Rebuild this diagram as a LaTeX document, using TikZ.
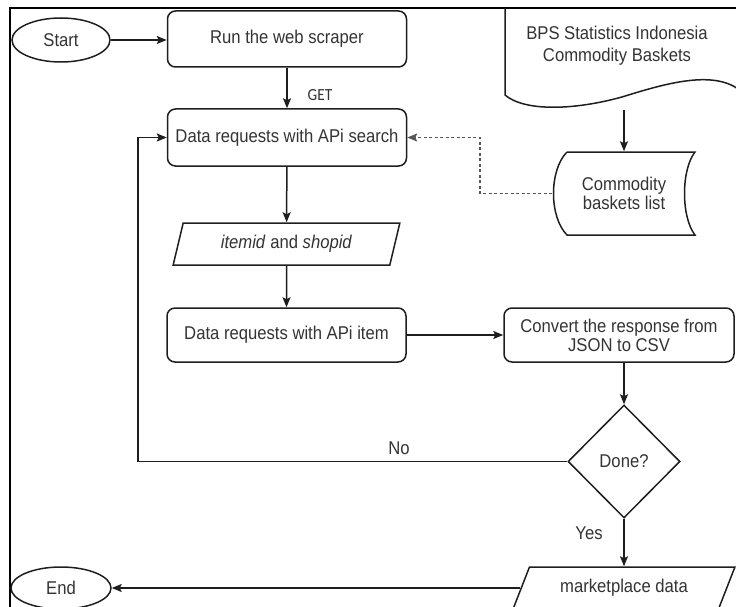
\documentclass[tikz,border=0pt]{standalone}
\usepackage{fontspec}
\setmainfont{Liberation Sans}[FakeStretch=0.9]
\newfontfamily\getfont{Carlito}[FakeStretch=0.9]
\usetikzlibrary{arrows.meta,shapes.geometric}
\definecolor{txt}{HTML}{333333}
\definecolor{ln}{HTML}{1E1E1E}
\begin{document}
\begin{tikzpicture}[x=1pt,y=-1pt,
  line width=1.5pt,
  every node/.style={text=txt, font=\fontsize{18.5}{21}\selectfont, inner sep=0pt},
  proc/.style={draw=ln, rounded corners=8pt, minimum width=239pt, minimum height=56pt, align=center},
  term/.style={draw=ln, ellipse, minimum width=98pt, minimum height=44pt},
  io/.style={draw=ln, trapezium, trapezium stretches=true, minimum height=42pt},
  flow/.style={draw=ln, -{Stealth[length=10pt,width=8pt,inset=2pt]}},
  dotflow/.style={flow, draw=ln!75, line width=1.8pt, dash pattern=on 3pt off 2.5pt},
  lbl/.style={text=txt}]
\useasboundingbox (0,0) rectangle (736,607);
% frame
\draw[line width=2pt, draw=black] (10,612) -- (10,8) -- (742,8);
% nodes
\node[term] (start) at (61,40) {Start};
\node[proc] (run) at (287,39) {Run the web scraper};
\node[proc, minimum height=57pt] (search) at (287,137.5) {Data requests with APi search};
\node[io, minimum width=227pt, trapezium left angle=69.7, trapezium right angle=110.3] (ids) at (286.5,244) {\textit{itemid} and \textit{shopid}};
\node[proc, minimum height=54pt] (item) at (286.5,335) {Data requests with APi item};
\node[proc, minimum width=230pt, minimum height=54pt, font=\fontsize{18.5}{19}\selectfont] (convert) at (619,335) {Convert the response from\\JSON to CSV};
\node[draw=ln, diamond, minimum width=112pt, minimum height=113pt] (done) at (624,461.5) {Done?};
\node[io, minimum width=222pt, trapezium left angle=57.3, trapezium right angle=122.7] (market) at (624,588) {marketplace data};
\node[term, minimum width=100pt, minimum height=42pt] (end) at (61,588) {End};
% document shape
\draw[ln] (505,8) -- (505,95) .. controls (525,112) and (575,110) .. (622,97)
  .. controls (670,82) and (720,68) .. (745,95);
\node[align=center, font=\fontsize{18.5}{22}\selectfont] (bps) at (617,46) {BPS Statistics Indonesia\\Commodity Baskets};
\coordinate (bpsb) at (624,110);
% stored data shape
\draw[ln] (567,152) -- (695,152) .. controls (681,170) and (681,217) .. (695,235)
  -- (567,235) .. controls (549,217) and (549,170) .. (567,152);
\node[minimum width=142pt, minimum height=83pt, align=center, font=\fontsize{18.5}{19}\selectfont] (comm) at (624,193.5) {Commodity\\baskets list};
% turning points
\coordinate (noturn) at (138,461.5);
\coordinate (dashturn) at (480,137.5);
% connectors
\draw[flow] (start.east) -- (start.east -| run.west);
\draw[flow] (run) -- (search);
\draw[flow] (search) -- (ids);
\draw[flow] (ids) -- (item);
\draw[flow] (item) -- (convert);
\draw[flow] (convert.south -| done.north) -- (done.north);
\draw[flow] (done.south) -- (done.south |- market.north);
\draw[flow] (market.left side) -- (end.east);
\draw[flow] (done.west) -- (noturn) |- (search.west);
\draw[dotflow] (comm.west) -| (dashturn) -- (search.east);
\draw[flow] (bpsb) -- (comm.north);
% labels
\node[lbl, font=\getfont\fontsize{17}{19}\selectfont] (getlbl) at (320,95) {GET};
\node[lbl] (nolbl) at (399,448) {No};
\node[lbl] (yeslbl) at (589,533) {Yes};
\end{tikzpicture}
\end{document}
